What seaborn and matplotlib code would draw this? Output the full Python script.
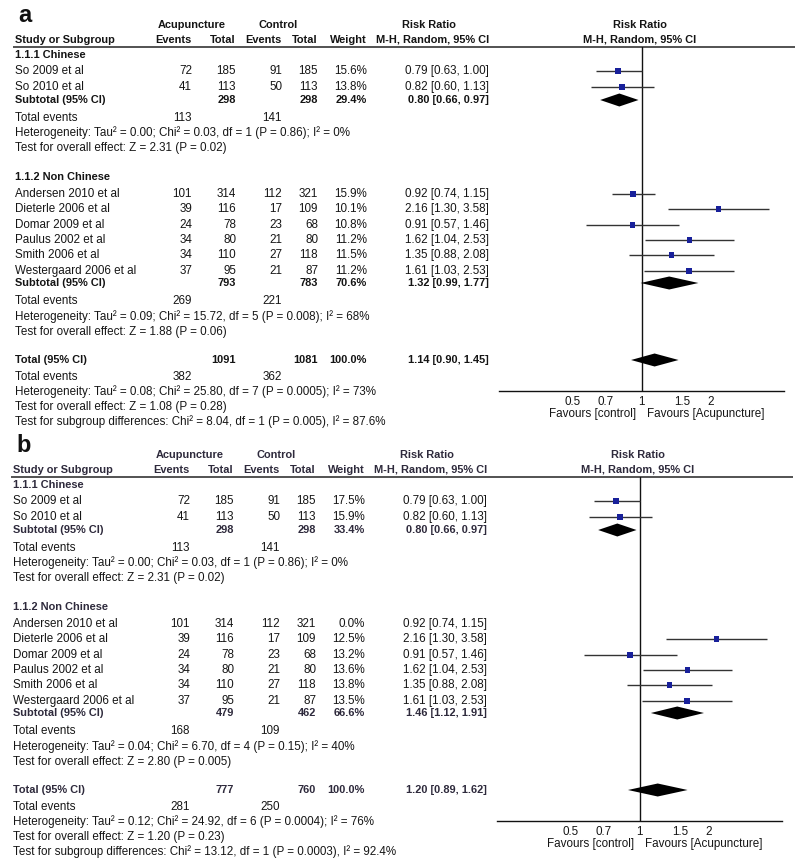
import matplotlib
matplotlib.use("Agg")
import matplotlib.pyplot as plt
import seaborn as sns
import pandas as pd

# ---------------- data ----------------
studies = ["So 2009 et al", "So 2010 et al", "Andersen 2010 et al", "Dieterle 2006 et al",
           "Domar 2009 et al", "Paulus 2002 et al", "Smith 2006 et al", "Westergaard 2006 et al"]
groups = ["Chinese", "Chinese", "Non Chinese", "Non Chinese", "Non Chinese",
          "Non Chinese", "Non Chinese", "Non Chinese"]
acu_events = [72, 41, 101, 39, 24, 34, 34, 37]
acu_total = [185, 113, 314, 116, 78, 80, 110, 95]
ctl_events = [91, 50, 112, 17, 23, 21, 27, 21]
ctl_total = [185, 113, 321, 109, 68, 80, 118, 87]
rr = [0.79, 0.82, 0.92, 2.16, 0.91, 1.62, 1.35, 1.61]
rr_lo = [0.63, 0.60, 0.74, 1.30, 0.57, 1.04, 0.88, 1.03]
rr_hi = [1.00, 1.13, 1.15, 3.58, 1.46, 2.53, 2.08, 2.53]
weight_a = [15.6, 13.8, 15.9, 10.1, 10.8, 11.2, 11.5, 11.2]
weight_b = [17.5, 15.9, 0.0, 12.5, 13.2, 13.6, 13.8, 13.5]

# pooled rows: [subgroup 1.1.1, subgroup 1.1.2, total]
pool_labels = ["Subtotal (95% CI)", "Subtotal (95% CI)", "Total (95% CI)"]
a_acu_total = [298, 793, 1091]
a_ctl_total = [298, 783, 1081]
a_weight = [29.4, 70.6, 100.0]
a_rr = [0.80, 1.32, 1.14]
a_lo = [0.66, 0.99, 0.90]
a_hi = [0.97, 1.77, 1.45]
a_acu_ev = [113, 269, 382]
a_ctl_ev = [141, 221, 362]
a_tau2 = ["0.00", "0.09", "0.08"]
a_chi2 = ["0.03", "15.72", "25.80"]
a_df = [1, 5, 7]
a_phet = ["0.86", "0.008", "0.0005"]
a_i2 = [0, 68, 73]
a_z = ["2.31", "1.88", "1.08"]
a_pz = ["0.02", "0.06", "0.28"]
a_subdiff = ["8.04", 1, "0.005", "87.6"]

b_acu_total = [298, 479, 777]
b_ctl_total = [298, 462, 760]
b_weight = [33.4, 66.6, 100.0]
b_rr = [0.80, 1.46, 1.20]
b_lo = [0.66, 1.12, 0.89]
b_hi = [0.97, 1.91, 1.62]
b_acu_ev = [113, 168, 281]
b_ctl_ev = [141, 109, 250]
b_tau2 = ["0.00", "0.04", "0.12"]
b_chi2 = ["0.03", "6.70", "24.92"]
b_df = [1, 4, 6]
b_phet = ["0.86", "0.15", "0.0004"]
b_i2 = [0, 40, 76]
b_z = ["2.31", "2.80", "1.20"]
b_pz = ["0.02", "0.005", "0.23"]
b_subdiff = ["13.12", 1, "0.0003", "92.4"]

tick_vals = [0.5, 0.7, 1, 1.5, 2]
tick_labels = ["0.5", "0.7", "1", "1.5", "2"]

# ---------------- style ----------------
sns.set_style("white")
plt.rcParams["font.family"] = ["Liberation Sans", "DejaVu Sans"]
FS = 8.4
FSB = 7.9
TXT = "#161616"
W, H = 800, 865

fig = plt.figure(figsize=(W / 100, H / 100), dpi=100)
tax = fig.add_axes([0, 0, 1, 1])
tax.set_xlim(0, W)
tax.set_ylim(H, 0)
tax.axis("off")

# layout (panel-relative pixel rows)
study_rows = [71, 87, 194, 209, 225, 240, 255, 271]
group_head_rows = [55, 177]
pool_rows = [100, 283, 360]
events_rows = [118, 301, 377]
het_rows = [133, 317, 392]
test_rows = [148, 332, 407]
subdiff_row = 422
AXIS_Y = 391
TOP_Y = 47
COLS = dict(name=15, ae=192, at=236, ce=282, ct=318, w=367, ci=489)


def panel(off, dx, label, weights, p_at, p_ct, p_w, p_rr, p_lo, p_hi, p_ae, p_ce,
          tau2, chi2, dfs, phet, i2, zz, pz, subdiff, bold_color):
    def t(x, y, s, ha="left", bold=False, size=None, color=None):
        if size is None:
            size = FSB if bold else FS
        tax.text(x + dx, y + off, s, ha=ha, va="center", fontsize=size,
                 fontweight="bold" if bold else "normal",
                 color=color if color else (bold_color if bold else TXT))

    t(18, 15, label, bold=True, size=17, color="#111111")
    # headers
    t(192, 25, "Acupuncture", ha="center", bold=True)
    t(278, 25, "Control", ha="center", bold=True)
    t(429, 25, "Risk Ratio", ha="center", bold=True)
    t(640, 25, "Risk Ratio", ha="center", bold=True)
    t(COLS["name"], 40, "Study or Subgroup", bold=True)
    t(COLS["ae"], 40, "Events", ha="right", bold=True)
    t(COLS["at"], 40, "Total", ha="right", bold=True)
    t(COLS["ce"], 40, "Events", ha="right", bold=True)
    t(COLS["ct"], 40, "Total", ha="right", bold=True)
    t(COLS["w"], 40, "Weight", ha="right", bold=True)
    t(COLS["ci"], 40, "M-H, Random, 95% CI", ha="right", bold=True)
    t(640, 40, "M-H, Random, 95% CI", ha="center", bold=True)
    tax.plot([13 + dx, 795 + dx], [TOP_Y + off, TOP_Y + off], color="#444444", lw=1.3,
             solid_capstyle="butt")

    t(COLS["name"], group_head_rows[0], "1.1.1 Chinese", bold=True)
    t(COLS["name"], group_head_rows[1], "1.1.2 Non Chinese", bold=True)

    for i, name in enumerate(studies):
        y = study_rows[i]
        t(COLS["name"], y, name)
        t(COLS["ae"], y, str(acu_events[i]), ha="right")
        t(COLS["at"], y, str(acu_total[i]), ha="right")
        t(COLS["ce"], y, str(ctl_events[i]), ha="right")
        t(COLS["ct"], y, str(ctl_total[i]), ha="right")
        t(COLS["w"], y, f"{weights[i]:.1f}%", ha="right")
        t(COLS["ci"], y, f"{rr[i]:.2f} [{rr_lo[i]:.2f}, {rr_hi[i]:.2f}]", ha="right")

    for k in range(3):
        y = pool_rows[k]
        t(COLS["name"], y, pool_labels[k], bold=True)
        t(COLS["at"], y, str(p_at[k]), ha="right", bold=True)
        t(COLS["ct"], y, str(p_ct[k]), ha="right", bold=True)
        t(COLS["w"], y, f"{p_w[k]:.1f}%", ha="right", bold=True)
        t(COLS["ci"], y, f"{p_rr[k]:.2f} [{p_lo[k]:.2f}, {p_hi[k]:.2f}]", ha="right", bold=True)
        t(COLS["name"], events_rows[k], "Total events")
        t(COLS["ae"], events_rows[k], str(p_ae[k]), ha="right")
        t(COLS["ce"], events_rows[k], str(p_ce[k]), ha="right")
        t(COLS["name"], het_rows[k],
          f"Heterogeneity: Tau\u00b2 = {tau2[k]}; Chi\u00b2 = {chi2[k]}, df = {dfs[k]} "
          f"(P = {phet[k]}); I\u00b2 = {i2[k]}%")
        t(COLS["name"], test_rows[k], f"Test for overall effect: Z = {zz[k]} (P = {pz[k]})")
    t(COLS["name"], subdiff_row,
      f"Test for subgroup differences: Chi\u00b2 = {subdiff[0]}, df = {subdiff[1]} "
      f"(P = {subdiff[2]}), I\u00b2 = {subdiff[3]}%")

    # forest axes
    left, right = 499 + dx, 784 + dx
    fax = fig.add_axes([left / W, 1 - (AXIS_Y + off) / H, (right - left) / W,
                        (AXIS_Y - TOP_Y) / H])
    fax.patch.set_alpha(0)
    fax.set_xscale("log")
    fax.set_xlim(0.239, 4.18)
    fax.set_ylim(AXIS_Y, TOP_Y)
    for s in ["top", "left", "right"]:
        fax.spines[s].set_visible(False)
    fax.spines["bottom"].set_color("#111111")
    fax.spines["bottom"].set_linewidth(1.0)
    fax.axvline(1, color="#111111", lw=1.0, zorder=1)

    df = pd.DataFrame(dict(rr=rr, lo=rr_lo, hi=rr_hi, w=weights, y=study_rows))
    df = df[df["w"] > 0]
    fax.hlines(df["y"], df["lo"], df["hi"], color="#333333", lw=1.0, zorder=2)
    sns.scatterplot(data=df, x="rr", y="y", size="w", sizes=(13, 18), size_norm=(10, 18),
                    marker="s", color="#18209a", edgecolor="none", linewidth=0,
                    legend=False, ax=fax, zorder=3)
    for k in range(3):
        y = pool_rows[k]
        h = 6.5
        fax.fill([p_lo[k], p_rr[k], p_hi[k], p_rr[k]], [y, y - h, y, y + h],
                 color="black", lw=0, zorder=3)

    fax.set_yticks([])
    fax.minorticks_off()
    fax.set_xticks(tick_vals)
    fax.set_xticklabels(tick_labels)
    fax.tick_params(axis="x", which="major", direction="inout", length=6, width=1,
                    color="#111111", pad=0.3, labelsize=FS, labelcolor=TXT)
    fax.tick_params(axis="x", which="minor", length=0)
    fax.set_xlabel("")
    fax.set_ylabel("")

    t(636, 414.5, "Favours [control]", ha="right")
    t(647, 414.5, "Favours [Acupuncture]", ha="left")


panel(0, 0, "a", weight_a, a_acu_total, a_ctl_total, a_weight, a_rr, a_lo, a_hi,
      a_acu_ev, a_ctl_ev, a_tau2, a_chi2, a_df, a_phet, a_i2, a_z, a_pz, a_subdiff,
      "#141414")
panel(430, -2, "b", weight_b, b_acu_total, b_ctl_total, b_weight, b_rr, b_lo, b_hi,
      b_acu_ev, b_ctl_ev, b_tau2, b_chi2, b_df, b_phet, b_i2, b_z, b_pz, b_subdiff,
      "#2e2a3c")

fig.savefig("out.png", dpi=100)
